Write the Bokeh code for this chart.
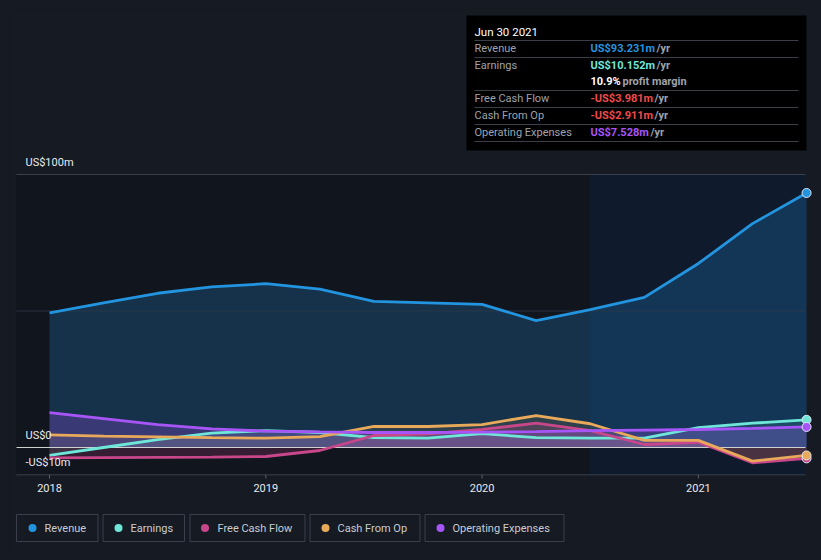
from bokeh.plotting import figure
from bokeh.models import Range1d
from bokeh.embed import file_html
from bokeh.resources import INLINE
from bokeh.core.properties import value

# ---- data (US$ millions, quarterly trailing twelve months) ----
quarters = [2018.0, 2018.25, 2018.5, 2018.75, 2019.0, 2019.25, 2019.5, 2019.75,
            2020.0, 2020.25, 2020.5, 2020.75, 2021.0, 2021.25, 2021.5]
revenue = [49.3, 53.0, 56.5, 58.8, 60.0, 58.0, 53.5, 53.0, 52.4, 46.5, 50.5, 55.0, 67.4, 82.0, 93.231]
earnings = [-2.9, 0.0, 2.9, 5.3, 6.2, 5.5, 3.6, 3.4, 5.1, 3.6, 3.4, 3.4, 7.3, 8.9, 10.152]
free_cash_flow = [-3.8, -3.7, -3.6, -3.5, -3.3, -1.1, 4.4, 5.0, 6.6, 8.9, 6.2, 1.1, 1.9, -5.6, -3.981]
cash_from_op = [4.6, 4.2, 3.9, 3.6, 3.4, 4.0, 7.7, 7.7, 8.4, 11.7, 8.7, 2.6, 2.6, -5.0, -2.911]
operating_expenses = [12.8, 10.6, 8.4, 6.8, 6.0, 5.7, 5.5, 5.5, 5.6, 5.8, 6.2, 6.4, 6.6, 7.0, 7.528]

year_ticks = [2018, 2019, 2020, 2021]
year_labels = ["2018", "2019", "2020", "2021"]
y_ticks = [100, 0, -10]
y_labels = ["US$100m", "US$0", "-US$10m"]
highlight_start = 2020.5

series_names = ["Revenue", "Earnings", "Free Cash Flow", "Cash From Op", "Operating Expenses"]
series_colors = ["#2394df", "#6ee7d9", "#c8478a", "#e9a95b", "#a855f7"]

tooltip_date = "Jun 30 2021"
tooltip_labels = ["Revenue", "Earnings", "", "Free Cash Flow", "Cash From Op", "Operating Expenses"]
tooltip_values = ["US$93.231m", "US$10.152m", "10.9%", "-US$3.981m", "-US$2.911m", "US$7.528m"]
tooltip_suffix = ["/yr", "/yr", "profit margin", "/yr", "/yr", "/yr"]
tooltip_colors = ["#2394df", "#6ee7d9", "#ffffff", "#f04a4a", "#f04a4a", "#a855f7"]

# ---- pixel helpers (reference page pixels -> data coordinates) ----
PX_PER_YEAR = 216.3
X0_PX = 49.0
PX_PER_M = 2.73
Y0_PX = 447.0

def xd(px):
    return 2018 + (px - X0_PX) / PX_PER_YEAR

def yd(py):
    return (Y0_PX - py) / PX_PER_M

W, H = 805, 544
BG = "#151a23"
FONT = value("Roboto")

p = figure(width=W, height=H, output_backend="svg", toolbar_location=None,
           x_axis_type=None, y_axis_type=None, min_border=0,
           x_range=Range1d(xd(8), xd(8 + W)), y_range=Range1d(yd(8 + H), yd(8)))
p.background_fill_color = BG
p.border_fill_color = BG
p.outline_line_color = None
p.grid.visible = False

left_px, right_px = 16, 805
top_v, bot_v = y_ticks[0], y_ticks[2]

# plot backgrounds
p.quad(left=xd(left_px), right=highlight_start, bottom=bot_v, top=top_v,
       fill_color="#11151d", line_color=None)
p.quad(left=highlight_start, right=xd(right_px), bottom=bot_v, top=top_v,
       fill_color="#0f1b2d", line_color=None)

# grid lines
p.segment(x0=xd(left_px), x1=xd(right_px), y0=100, y1=100, line_color="#3a404b", line_width=1)
p.segment(x0=xd(left_px), x1=xd(right_px), y0=-10, y1=-10, line_color="#3a404b", line_width=1)

# area fills
fill_alphas = [0.23, 0.12, 0.2, 0.12, 0.25]
series = [revenue, earnings, free_cash_flow, cash_from_op, operating_expenses]
for s, c, a in zip(series, series_colors, fill_alphas):
    p.varea(x=quarters, y1=[0] * len(quarters), y2=s, fill_color=c, fill_alpha=a)

p.segment(x0=xd(left_px), x1=xd(right_px), y0=50, y1=50, line_color="#2d3a4a", line_width=1, line_alpha=0.8)

# zero line
p.segment(x0=xd(left_px), x1=xd(right_px), y0=0, y1=0, line_color="#d0d0d0", line_width=1.2)

# lines
for i in range(5):
    p.line(quarters, series[i], line_color=series_colors[i], line_width=2.8)
for i in [0, 1, 4, 2, 3]:
    p.scatter([quarters[-1]], [series[i][-1]], size=9, fill_color=series_colors[i],
              line_color="#dfe6f0", line_width=1)

# x ticks
for t in year_ticks:
    p.segment(x0=t, x1=t, y0=-10, y1=yd(478), line_color="#5a606a", line_width=1)
p.text(x=year_ticks, y=[yd(487)] * 4, text=year_labels, text_font=FONT, text_font_size="11px",
       text_color="#e8eaee", text_align="center", text_baseline="middle")

# y labels
p.text(x=[xd(25)] * 3, y=[yd(162), yd(435), yd(462)], text=y_labels, text_font=FONT,
       text_font_size="11px", text_color="#e8eaee", text_align="left", text_baseline="middle")

# tooltip box
p.quad(left=xd(466), right=xd(806), top=yd(15), bottom=yd(150), fill_color="#000000", line_color=None)
p.text(x=[xd(474)], y=[yd(31)], text=[tooltip_date], text_font=FONT, text_font_size="11.5px",
       text_color="#ffffff", text_baseline="middle")
row_y = [48, 65, 81, 98, 115, 132]
sep_y = [40, 57, 90, 107, 124, 141]
for sy in sep_y:
    p.segment(x0=xd(474), x1=xd(798), y0=yd(sy), y1=yd(sy), line_color="#3a3f47", line_width=1)
p.text(x=[xd(474)] * 6, y=[yd(r) for r in row_y], text=tooltip_labels, text_font=FONT,
       text_font_size="11px", text_color="#9ea3ab", text_baseline="middle")
p.text(x=[xd(590)] * 6, y=[yd(r) for r in row_y], text=tooltip_values, text_font=FONT,
       text_font_size="11px", text_color=tooltip_colors, text_font_style="bold", text_baseline="middle")
suffix_px = [656, 656, 622, 654, 654, 650]
p.text(x=[xd(s) for s in suffix_px], y=[yd(r) for r in row_y], text=tooltip_suffix, text_font=FONT,
       text_font_size="11px", text_color="#9ea3ab", text_font_style="bold", text_baseline="middle")

# legend boxes
box_l = [16, 102.5, 189.5, 309.5, 424.5]
box_r = [97.5, 184, 304.5, 419.5, 563.5]
dot_x = [32, 118, 204.5, 325, 440]
txt_x = [44, 130, 217, 337, 452]
leg_top, leg_bot, leg_mid = 514, 541, 527.5
p.quad(left=[xd(v) for v in box_l], right=[xd(v) for v in box_r], top=yd(leg_top), bottom=yd(leg_bot),
       fill_color=BG, line_color="#3a404b", line_width=1)
p.scatter(x=[xd(v) for v in dot_x], y=[yd(leg_mid)] * 5, size=8, fill_color=series_colors, line_color=None)
p.text(x=[xd(v) for v in txt_x], y=[yd(leg_mid)] * 5, text=series_names, text_font=FONT,
       text_font_size="11px", text_color="#c9ccd2", text_baseline="middle")

html = file_html(p, INLINE)
style = ("<style>html{background:%s !important;height:auto !important;}"
         "body{margin:8px !important;padding:0 !important;height:auto !important;"
         "background:%s !important;}</style></head>") % (BG, BG)
html = html.replace("</head>", style, 1)
open("out.html", "w").write(html)
